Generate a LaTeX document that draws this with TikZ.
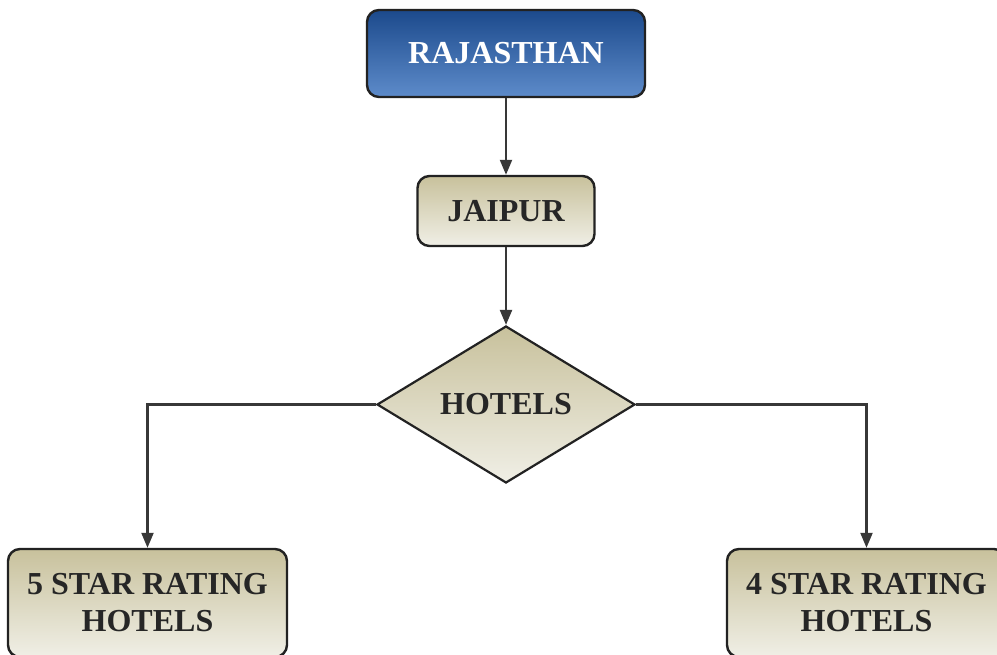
\documentclass[tikz,border=0pt]{standalone}
\usepackage{fontspec}
\setmainfont{Liberation Serif}
\usetikzlibrary{shapes.geometric,arrows.meta}
\definecolor{edgec}{HTML}{222222}
\definecolor{tantop}{HTML}{C8C19C}
\definecolor{tanbot}{HTML}{F0EFE6}
\definecolor{bluetop}{HTML}{1C4A8C}
\definecolor{bluebot}{HTML}{5D8BCA}
\definecolor{txt}{HTML}{262626}
\tikzset{
  boxbase/.style={draw=edgec, line width=2.4pt, rounded corners=12pt, inner sep=0pt, align=center,
    font=\fontsize{32}{37}\selectfont\bfseries},
  tanbox/.style={boxbase, top color=tantop, bottom color=tanbot, text=txt},
  bluebox/.style={boxbase, top color=bluetop, bottom color=bluebot, text=white},
  decide/.style={diamond, draw=edgec, line width=2.2pt, inner sep=0pt, aspect=1.64,
    top color=tantop, bottom color=tanbot, text=txt, font=\fontsize{32}{37}\selectfont\bfseries},
  conn/.style={draw=edgec!90, line width=2.2pt, -{Triangle[length=15pt,width=12pt]}},
}
\begin{document}
\begin{tikzpicture}[x=1pt,y=-1pt]
\useasboundingbox (0,0) rectangle (997,654);
\clip (0,0) rectangle (997,654);
\fill[white] (0,0) rectangle (997,654);
\node[bluebox, minimum width=278pt, minimum height=87pt] (raj) at (506,53.5) {RAJASTHAN};
\node[tanbox, minimum width=177pt, minimum height=70pt] (jai) at (506,211) {JAIPUR};
\node[decide, minimum width=258pt, minimum height=157pt] (hot) at (506,404.5) {HOTELS};
\node[tanbox, minimum width=279pt, minimum height=108pt] (five) at (147.5,603) {5 STAR RATING\\HOTELS};
\node[tanbox, minimum width=279pt, minimum height=108pt] (four) at (866.5,603) {4 STAR RATING\\HOTELS};
\draw[conn] (raj.south) -- (jai.north);
\draw[conn] (jai.south) -- (hot.north);
\draw[conn] (hot.west) -| (five.north);
\draw[conn] (hot.east) -| (four.north);
\end{tikzpicture}
\end{document}
